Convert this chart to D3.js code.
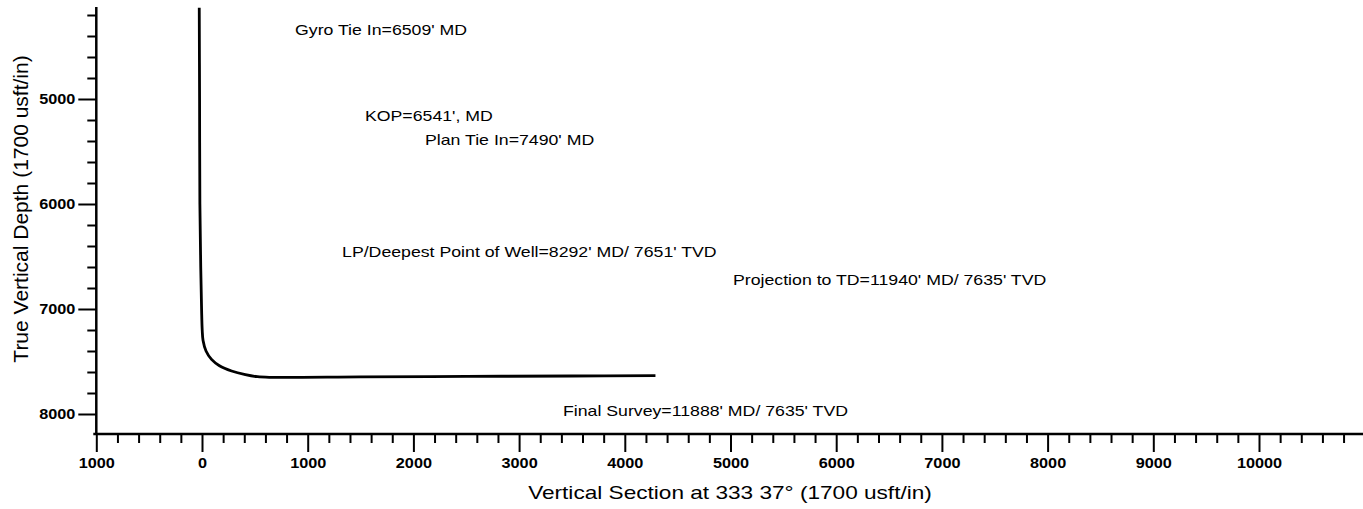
<!DOCTYPE html>
<html>
<head>
  <script src="https://d3js.org/d3.v7.min.js"></script>
  <style>
    body {
      margin: 0;
      background-color: #fff;
      font-family: "Liberation Sans", Arial, sans-serif;
    }

    .axis line, .axis path {
      stroke: #000;
      stroke-width: 2px;
    }

    .axis text {
      font-size: 14px;
      font-weight: bold;
      fill: #000;
    }

    .well-path {
      fill: none;
      stroke: #000;
      stroke-width: 2.8px;
    }

    .anno {
      font-size: 15px;
      fill: #000;
    }

    .axis-label {
      font-size: 19px;
      fill: #000;
    }
  </style>
</head>
<body>
  <div id="chart"></div>
  <script>
    // Well path (vertical section vs TVD, feet)
    const wellVS  = [-26, -23, -20, -12, -4, 2, 10, 38, 90, 165, 280, 410, 525, 650, 1500, 2500, 3500, 4290];
    const wellTVD = [4130, 5000, 6000, 6600, 7000, 7200, 7300, 7400, 7480, 7540, 7590, 7625, 7645, 7651, 7647, 7642, 7638, 7635];

    // Annotations
    const annoLabels = [
      "Gyro Tie In=6509' MD",
      "KOP=6541', MD",
      "Plan Tie In=7490' MD",
      "LP/Deepest Point of Well=8292' MD/ 7651' TVD",
      "Projection to TD=11940' MD/ 7635' TVD",
      "Final Survey=11888' MD/ 7635' TVD"
    ];
    const annoVS  = [880, 1542, 2110, 1325, 5024, 3415];
    const annoTVD = [4343, 5162, 5390, 6457, 6724, 7971];

    // Ticks
    const xTickValues = [-1000, 0, 1000, 2000, 3000, 4000, 5000, 6000, 7000, 8000, 9000, 10000];
    const xTickLabels = ["1000", "0", "1000", "2000", "3000", "4000", "5000", "6000", "7000", "8000", "9000", "10000"];
    const yTickValues = [5000, 6000, 7000, 8000];
    const yTickLabels = ["5000", "6000", "7000", "8000"];

    const W = 1363, H = 509;

    const svg = d3.select("#chart")
      .append("svg")
      .attr("width", W)
      .attr("height", H);

    const x = d3.scaleLinear().domain([0, 10000]).range([202, 1259]);
    const y = d3.scaleLinear().domain([5000, 8000]).range([99, 414]);

    const xLeft = x(-1000), xRight = W;
    const yTop = 7, yBottom = 434;

    // stretch text horizontally to mimic the wide plotter font
    function stretch(sel, k) {
      sel.each(function() {
        const w = this.getComputedTextLength();
        this.setAttribute("textLength", w * k);
        this.setAttribute("lengthAdjust", "spacingAndGlyphs");
      });
    }

    // X axis
    const xMinor = d3.range(-1000, 10801, 200).filter(v => v % 1000 !== 0);
    svg.append("g")
      .attr("class", "axis")
      .attr("transform", `translate(0, ${yBottom})`)
      .call(d3.axisBottom(x).tickValues(xMinor).tickSize(9).tickFormat(""))
      .call(g => g.select(".domain").remove());

    const xAxisG = svg.append("g")
      .attr("class", "axis")
      .attr("transform", `translate(0, ${yBottom})`)
      .call(d3.axisBottom(x)
        .tickValues(xTickValues)
        .tickSize(18)
        .tickPadding(6)
        .tickFormat((d, i) => xTickLabels[i]))
      .call(g => g.select(".domain").remove());
    stretch(xAxisG.selectAll("text"), 1.16);

    svg.append("line")
      .attr("x1", xLeft - 3).attr("x2", xRight)
      .attr("y1", yBottom).attr("y2", yBottom)
      .attr("stroke", "#000").attr("stroke-width", 2.5);

    // Y axis
    const yMinor = d3.range(4200, 8001, 200).filter(v => v % 1000 !== 0);
    svg.append("g")
      .attr("class", "axis")
      .attr("transform", `translate(${xLeft}, 0)`)
      .call(d3.axisLeft(y).tickValues(yMinor).tickSize(9).tickFormat(""))
      .call(g => g.select(".domain").remove());

    const yAxisG = svg.append("g")
      .attr("class", "axis")
      .attr("transform", `translate(${xLeft}, 0)`)
      .call(d3.axisLeft(y)
        .tickValues(yTickValues)
        .tickSize(18)
        .tickPadding(3)
        .tickFormat((d, i) => yTickLabels[i]))
      .call(g => g.select(".domain").remove());
    stretch(yAxisG.selectAll("text"), 1.16);

    svg.append("line")
      .attr("x1", xLeft).attr("x2", xLeft)
      .attr("y1", yTop).attr("y2", yBottom)
      .attr("stroke", "#000").attr("stroke-width", 2.5);

    // Well path
    const pts = wellVS.map((v, i) => [v, wellTVD[i]]);
    const line = d3.line()
      .x(d => x(d[0]))
      .y(d => y(d[1]))
      .curve(d3.curveCatmullRom.alpha(0.5));

    svg.append("path")
      .datum(pts)
      .attr("class", "well-path")
      .attr("d", line);

    // Annotations
    const annoG = svg.append("g");
    annoG.selectAll("text")
      .data(annoLabels)
      .join("text")
      .attr("class", "anno")
      .attr("x", (d, i) => x(annoVS[i]))
      .attr("y", (d, i) => y(annoTVD[i]))
      .attr("dy", "0.35em")
      .text(d => d);
    stretch(annoG.selectAll("text"), 1.18);

    // Axis titles
    const xt = svg.append("text")
      .attr("class", "axis-label")
      .attr("x", 730)
      .attr("y", 492)
      .attr("dy", "0.35em")
      .style("text-anchor", "middle")
      .text("Vertical Section at 333 37° (1700 usft/in)");
    stretch(xt, 1.19);

    const yt = svg.append("text")
      .attr("class", "axis-label")
      .style("font-size", "20px")
      .attr("transform", "rotate(-90)")
      .attr("x", -209)
      .attr("y", 21)
      .attr("dy", "0.35em")
      .style("text-anchor", "middle")
      .text("True Vertical Depth (1700 usft/in)");
    stretch(yt, 1.05);
  </script>
</body>
</html>
